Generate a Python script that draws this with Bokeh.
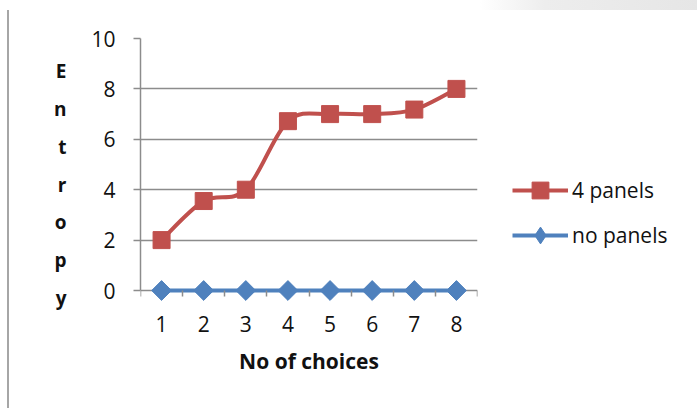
from bokeh.plotting import figure
from bokeh.models import Range1d, FixedTicker, Legend, LegendItem, LinearAxis
from bokeh.layouts import row
from bokeh.embed import file_html
from bokeh.resources import INLINE

# ---- data ----
choices = [1, 2, 3, 4, 5, 6, 7, 8]
panels4 = [2.0, 3.55, 4.0, 6.72, 7.0, 7.0, 7.18, 8.0]
no_panels = [0, 0, 0, 0, 0, 0, 0, 0]
y_ticks = [0, 2, 4, 6, 8, 10]
series_names = ["4 panels", "no panels"]
x_title = "No of choices"
y_title = "Entropy"

RED = "#C0504D"
BLUE = "#4F81BD"
GRID = "#8C8C8C"
FONT = "Open Sans"
TXT = "#111111"

# ---------------- main chart ----------------
p = figure(width=480, height=408, output_backend="svg", toolbar_location=None,
           x_range=Range1d(0.5, 8.5), y_range=Range1d(-1.587, 10),
           min_border_left=140, min_border_right=3, min_border_top=38, min_border_bottom=78)
p.outline_line_color = None
p.background_fill_color = "white"
p.border_fill_alpha = 0
p.styles = {"background": "linear-gradient(#A6A6A6, #A6A6A6) 7px 10px / 2px 398px no-repeat, #FFFFFF"}

p.xgrid.visible = False
p.ygrid.ticker = FixedTicker(ticks=y_ticks)
p.ygrid.grid_line_color = GRID
p.ygrid.grid_line_width = 1.5

ya = p.yaxis[0]
ya.ticker = FixedTicker(ticks=y_ticks)
ya.bounds = (0, 10)
ya.major_tick_out = 7
ya.major_tick_in = 0
ya.minor_tick_out = 0
ya.minor_tick_in = 0
ya.axis_line_color = GRID
ya.axis_line_width = 1.5
ya.major_tick_line_color = GRID
ya.major_tick_line_width = 1.5
ya.major_label_text_font = FONT
ya.major_label_text_font_size = "21px"
ya.major_label_text_color = TXT
ya.major_label_standoff = 18
ya.axis_label = "\n".join(list(y_title))
ya.axis_label_orientation = "horizontal"
ya.axis_label_text_font = FONT
ya.axis_label_text_font_style = "bold"
ya.axis_label_text_font_size = "19px"
ya.axis_label_text_line_height = 1.45
ya.axis_label_text_color = TXT
ya.axis_label_standoff = 22

# x axis 1: category boundary ticks at y = 0 (no labels)
xa = p.xaxis[0]
bounds = [c - 0.5 for c in choices] + [choices[-1] + 0.5]
xa.fixed_location = 0
xa.ticker = FixedTicker(ticks=[], minor_ticks=bounds)
xa.major_tick_out = 0
xa.major_tick_in = 0
xa.minor_tick_out = 6
xa.minor_tick_in = 0
xa.minor_tick_line_color = GRID
xa.minor_tick_line_width = 1.5
xa.axis_line_color = None
xa.major_label_standoff = 0

# x axis 2: category labels and title
xb = LinearAxis(ticker=FixedTicker(ticks=choices))
xb.axis_line_color = None
xb.major_tick_line_color = None
xb.minor_tick_line_color = None
xb.major_tick_out = 0
xb.major_tick_in = 0
xb.minor_tick_out = 0
xb.minor_tick_in = 0
xb.major_label_text_font = FONT
xb.major_label_text_font_size = "21px"
xb.major_label_text_color = TXT
xb.major_label_standoff = -15
xb.axis_label = x_title
xb.axis_label_text_font = FONT
xb.axis_label_text_font_style = "bold"
xb.axis_label_text_font_size = "21px"
xb.axis_label_text_color = TXT
xb.axis_label_standoff = 12
p.add_layout(xb, "below")

# smoothed red curve (Catmull-Rom bezier through the data points)
n = len(choices)
x0, y0, x1, y1, cx0, cy0, cx1, cy1 = [], [], [], [], [], [], [], []
for i in range(n - 1):
    pa = (choices[max(i - 1, 0)], panels4[max(i - 1, 0)])
    pb = (choices[i], panels4[i])
    pc = (choices[i + 1], panels4[i + 1])
    pd = (choices[min(i + 2, n - 1)], panels4[min(i + 2, n - 1)])
    x0.append(pb[0]); y0.append(pb[1]); x1.append(pc[0]); y1.append(pc[1])
    cx0.append(pb[0] + (pc[0] - pa[0]) / 6); cy0.append(pb[1] + (pc[1] - pa[1]) / 6)
    cx1.append(pc[0] - (pd[0] - pb[0]) / 6); cy1.append(pc[1] - (pd[1] - pb[1]) / 6)

p.bezier(x0=x0, y0=y0, x1=x1, y1=y1, cx0=cx0, cy0=cy0, cx1=cx1, cy1=cy1,
         line_color=RED, line_width=4, line_cap="round")
p.scatter(choices, panels4, marker="square", size=17, fill_color=RED,
          line_color=RED, line_width=1)
p.line(choices, no_panels, line_color=BLUE, line_width=4, line_cap="round")
p.scatter(choices, no_panels, marker="square", angle=0.785398, size=14,
          fill_color=BLUE, line_color=BLUE, line_width=1)

# ---------------- legend panel ----------------
lg = figure(width=217, height=408, output_backend="svg", toolbar_location=None,
            x_axis_type=None, y_axis_type=None,
            x_range=Range1d(100, 101), y_range=Range1d(100, 101),
            min_border=0)
lg.outline_line_color = None
lg.background_fill_alpha = 0
lg.border_fill_alpha = 0
lg.grid.visible = False
lg.styles = {"background": "linear-gradient(to right, #FFFFFF, #EDEDED 30%, #E6E6E6) "
                           "0px 0px / 217px 10px no-repeat, #FFFFFF"}

r_line = lg.line(choices, panels4, line_color=RED, line_width=4)
r_pts = lg.scatter(choices, panels4, marker="square", size=17, fill_color=RED, line_color=RED)
b_line = lg.line(choices, no_panels, line_color=BLUE, line_width=4)
b_pts = lg.scatter(choices, no_panels, marker="diamond", size=17,
                   fill_color=BLUE, line_color=BLUE)

legend = Legend(items=[
    LegendItem(label=series_names[0], renderers=[r_line, r_pts]),
    LegendItem(label=series_names[1], renderers=[b_line, b_pts]),
], location=(32, 74))
legend.background_fill_alpha = 0
legend.border_line_color = None
legend.padding = 0
legend.margin = 0
legend.spacing = 3
legend.glyph_width = 56
legend.glyph_height = 42
legend.label_height = 42
legend.label_standoff = 4
legend.label_text_font = FONT
legend.label_text_font_size = "21px"
legend.label_text_color = TXT
lg.add_layout(legend)

layout = row(p, lg, spacing=0)
open("out.html", "w").write(file_html(layout, INLINE))
